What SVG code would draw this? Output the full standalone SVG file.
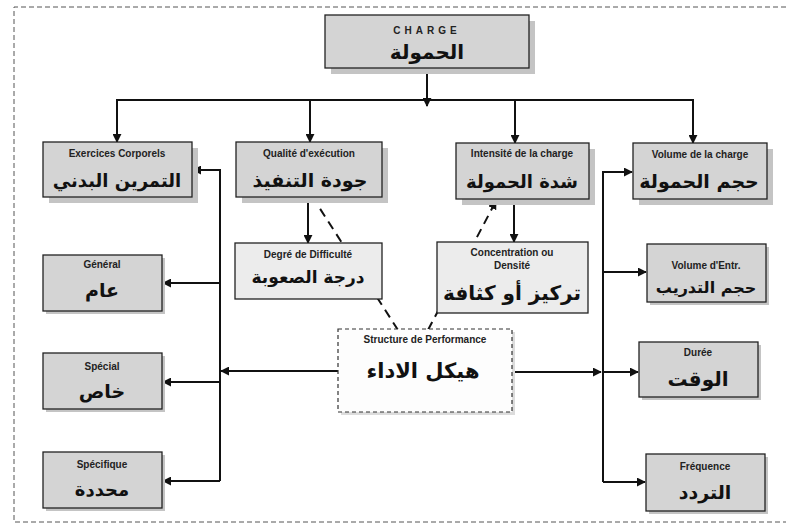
<svg xmlns="http://www.w3.org/2000/svg" width="786" height="529" viewBox="0 0 786 529">
<defs>
<marker id="ah" viewBox="0 0 10 10" refX="9" refY="5" markerWidth="4.5" markerHeight="4.5" orient="auto-start-reverse" markerUnits="strokeWidth">
<path d="M0,0 L10,5 L0,10 z" fill="#111"/>
</marker>
<style>
.frame{fill:none;stroke:#555;stroke-width:1;stroke-dasharray:5 3}
.shadow{fill:#c4c4c4}
.box{fill:#d4d4d4;stroke:#222;stroke-width:1.3}
.lbox{fill:#ececec;stroke:#222;stroke-width:1.3}
.dbox{fill:#fdfdfd;stroke:#333;stroke-width:1.2;stroke-dasharray:4 3}
.en{font-family:"Liberation Sans",Arial,sans-serif;font-weight:bold;font-size:10px;fill:#222;text-anchor:middle}
.ar{font-family:"DejaVu Sans",sans-serif;font-weight:bold;fill:#111;text-anchor:middle}
.ln{fill:none;stroke:#111;stroke-width:2}
.dl{fill:none;stroke:#111;stroke-width:2;stroke-dasharray:9 6}
</style>
</defs>
<rect width="786" height="529" fill="#fff"/>
<path class="frame" d="M786,7 H14 V522 H786"/>

<g id="connectors">
<path class="ln" d="M427,68 V100"/>
<path class="ln" d="M427,100 V106" marker-end="url(#ah)"/>
<path class="ln" d="M117,142 V100 H693 V143" marker-start="url(#ah)" marker-end="url(#ah)"/>
<path class="ln" d="M310,100 V142" marker-end="url(#ah)"/>
<path class="ln" d="M515,100 V143" marker-end="url(#ah)"/>
<path class="ln" d="M308,197 V243" marker-end="url(#ah)"/>
<path class="ln" d="M514,199 V242" marker-end="url(#ah)"/>
<path class="dl" d="M398,330 L317,204"/>
<path class="dl" d="M428,330 L496,201" marker-end="url(#ah)"/>
<path class="ln" d="M220,481 V170 H193" marker-end="url(#ah)"/>
<path class="ln" d="M220,283 H163" marker-end="url(#ah)"/>
<path class="ln" d="M220,382 H163" marker-end="url(#ah)"/>
<path class="ln" d="M220,481 H163" marker-end="url(#ah)"/>
<path class="ln" d="M338,371 H221" marker-end="url(#ah)"/>
<path class="ln" d="M603,482 V172 H632" marker-end="url(#ah)"/>
<path class="ln" d="M603,272 H646" marker-end="url(#ah)"/>
<path class="ln" d="M603,372 H638" marker-end="url(#ah)"/>
<path class="ln" d="M603,482 H645" marker-end="url(#ah)"/>
<path class="ln" d="M485,372 H601" marker-end="url(#ah)"/>
</g>

<g id="charge">
<rect class="shadow" x="331" y="21" width="204" height="53"/>
<rect class="box" x="325" y="15" width="204" height="53"/>
<text class="en" x="427" y="34" font-size="12" letter-spacing="4">CHARGE</text>
<text class="ar" x="427" y="59" font-size="20">الحمولة</text>
</g>

<g id="exercices">
<rect class="shadow" x="49" y="148" width="149" height="55"/>
<rect class="box" x="43" y="142" width="149" height="55"/>
<text class="en" x="117" y="157">Exercices Corporels</text>
<text class="ar" x="117" y="187" font-size="18">التمرين البدني</text>
</g>

<g id="qualite">
<rect class="shadow" x="242" y="148" width="146" height="55"/>
<rect class="box" x="236" y="142" width="146" height="55"/>
<text class="en" x="309" y="157">Qualité d'exécution</text>
<text class="ar" x="310" y="187" font-size="19">جودة التنفيذ</text>
</g>

<g id="intensite">
<rect class="shadow" x="462" y="149" width="133" height="56"/>
<rect class="box" x="456" y="143" width="133" height="56"/>
<text class="en" x="522" y="157" font-size="9.5">Intensité de la charge</text>
<text class="ar" x="522" y="188" font-size="18">شدة الحمولة</text>
</g>

<g id="volume-charge">
<rect class="shadow" x="639" y="149" width="134" height="56"/>
<rect class="box" x="633" y="143" width="134" height="56"/>
<text class="en" x="700" y="158">Volume de la charge</text>
<text class="ar" x="699" y="188" font-size="19">حجم الحمولة</text>
</g>

<g id="degre">
<rect class="lbox" x="235" y="243" width="147" height="56"/>
<text class="en" x="308" y="258">Degré de Difficulté</text>
<text class="ar" x="308" y="283" font-size="17">درجة الصعوبة</text>
</g>

<g id="concentration">
<rect class="lbox" x="437" y="242" width="151" height="71"/>
<text class="en" x="512" y="256">Concentration ou</text>
<text class="en" x="512" y="269">Densité</text>
<text class="ar" x="512" y="300" font-size="20">تركيز أو كثافة</text>
</g>

<g id="structure">
<rect x="341" y="332" width="174" height="83" fill="#dcdcdc"/>
<rect class="dbox" x="338" y="329" width="174" height="83"/>
<text class="en" x="425" y="343" font-size="9.5">Structure de Performance</text>
<text class="ar" x="423" y="378" font-size="21">هيكل الاداء</text>
</g>

<g id="general">
<rect class="shadow" x="46" y="258" width="119" height="56"/>
<rect class="box" x="43" y="255" width="119" height="56"/>
<text class="en" x="102" y="268" font-size="9.5">Général</text>
<text class="ar" x="102" y="297" font-size="19">عام</text>
</g>

<g id="special">
<rect class="shadow" x="46" y="356" width="119" height="56"/>
<rect class="box" x="43" y="353" width="119" height="56"/>
<text class="en" x="102" y="370" font-size="11">Spécial</text>
<text class="ar" x="102" y="398" font-size="19">خاص</text>
</g>

<g id="specifique">
<rect class="shadow" x="46" y="455" width="119" height="56"/>
<rect class="box" x="43" y="452" width="119" height="56"/>
<text class="en" x="102" y="468" font-size="11">Spécifique</text>
<text class="ar" x="102" y="496" font-size="18">محددة</text>
</g>

<g id="volume-entr">
<rect class="shadow" x="650" y="247" width="119" height="58"/>
<rect class="box" x="647" y="244" width="119" height="58"/>
<text class="en" x="706" y="269">Volume d'Entr.</text>
<text class="ar" x="706" y="293" font-size="16">حجم التدريب</text>
</g>

<g id="duree">
<rect class="shadow" x="642" y="345" width="119" height="55"/>
<rect class="box" x="639" y="342" width="119" height="55"/>
<text class="en" x="698" y="356" font-size="9.5">Durée</text>
<text class="ar" x="698" y="386" font-size="20">الوقت</text>
</g>

<g id="frequence">
<rect class="shadow" x="649" y="457" width="119" height="57"/>
<rect class="box" x="646" y="454" width="119" height="57"/>
<text class="en" x="705" y="470" font-size="9.5">Fréquence</text>
<text class="ar" x="705" y="499" font-size="19">التردد</text>
</g>
</svg>
